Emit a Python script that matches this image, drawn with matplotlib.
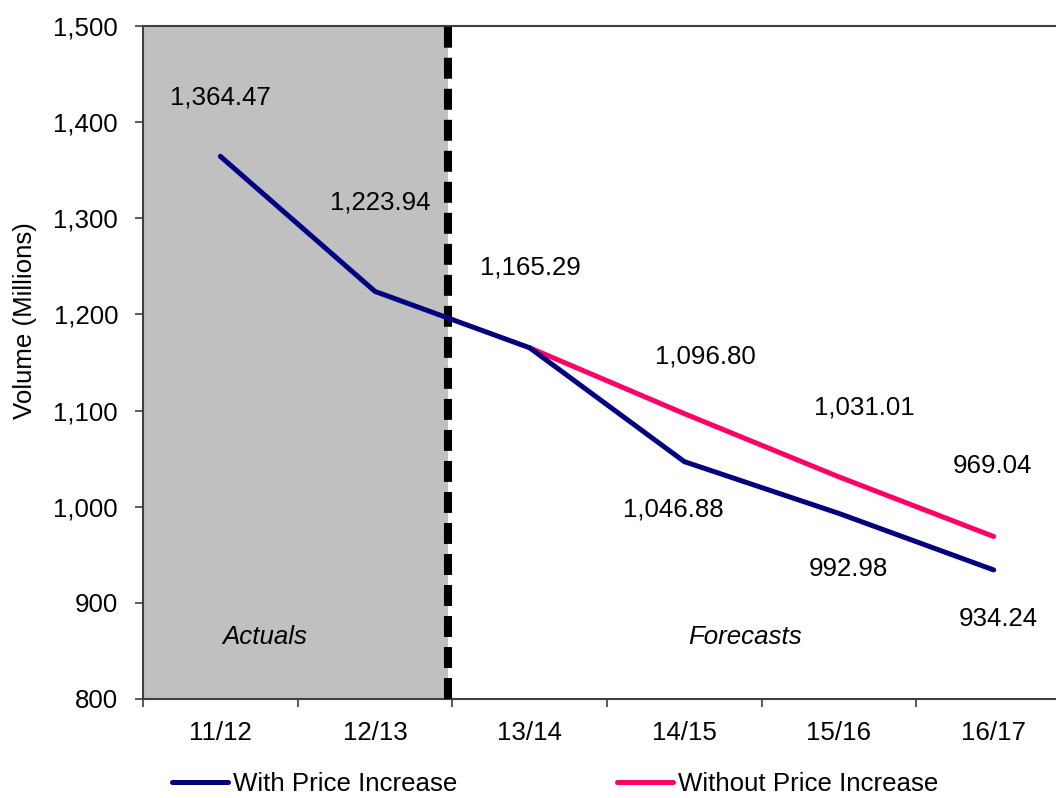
import matplotlib
matplotlib.use("Agg")
import matplotlib.pyplot as plt
from matplotlib.ticker import FuncFormatter

plt.rcParams["font.family"] = ["Liberation Sans", "DejaVu Sans"]
FS = 18.6
plt.rcParams["font.size"] = FS

# Fiscal years and volumes (millions)
years = ["11/12", "12/13", "13/14", "14/15", "15/16", "16/17"]
with_increase = [1364.47, 1223.94, 1165.29, 1046.88, 992.98, 934.24]
# The "without" scenario branches off from 13/14 onwards
without_years = ["13/14", "14/15", "15/16", "16/17"]
without_increase = [1165.29, 1096.80, 1031.01, 969.04]

y_ticks = [800, 900, 1000, 1100, 1200, 1300, 1400, 1500]

NAVY = "#000080"
PINK = "#FF0066"
SHADE = "#C0C0C0"

fig = plt.figure(figsize=(10.56, 7.98), dpi=100)
W, H = 1056, 798
ax = fig.add_axes([143 / W, 1 - 699 / H, 928 / W, 673 / H])

xi = list(range(len(years)))
xw = [years.index(y) for y in without_years]

divider = 1.47
ax.axvspan(-0.5, divider, color=SHADE, zorder=0, lw=0)
ax.axvline(divider, color="black", lw=5.8, linestyle=(0, (2.6, 1.25)),
           dash_capstyle="butt", zorder=3)

ax.plot(xw, without_increase, color=PINK, lw=3.6, solid_capstyle="round",
        solid_joinstyle="round", zorder=4, label="Without Price Increase")
ax.plot(xi, with_increase, color=NAVY, lw=3.6, solid_capstyle="round",
        solid_joinstyle="round", zorder=5, label="With Price Increase")

# Value labels (offsets in pixels from each point)
with_offsets = [(0, 59), (5, 89), (1, 80), (-11, -48), (9, -56), (5, -49)]
without_offsets = [None, (21, 57), (25, 69), (-1, 70)]

for x, v, off in zip(xi, with_increase, with_offsets):
    ax.annotate(f"{v:,.2f}", (x, v), xytext=off, textcoords="offset pixels",
                ha="center", va="center", fontsize=FS, zorder=6)
for x, v, off in zip(xw, without_increase, without_offsets):
    if off is None:
        continue
    ax.annotate(f"{v:,.2f}", (x, v), xytext=off, textcoords="offset pixels",
                ha="center", va="center", fontsize=FS, zorder=6)

ax.text(0.29, 864.5, "Actuals", style="italic", ha="center", va="center", fontsize=FS)
ax.text(3.39, 864.5, "Forecasts", style="italic", ha="center", va="center", fontsize=FS)

ax.set_xlim(-0.5, len(years) - 0.5)
ax.set_ylim(800, 1500)
ax.set_yticks(y_ticks)
ax.yaxis.set_major_formatter(FuncFormatter(lambda v, p: f"{v:,.0f}"))
ax.set_xticks(xi)
ax.set_xticklabels(years)
ax.set_xticks([i - 0.5 for i in range(len(years) + 1)], minor=True)
ax.tick_params(axis="x", which="major", length=0, pad=16, labelsize=FS)
ax.tick_params(axis="x", which="minor", length=6, width=1.2, color="#404040")
ax.tick_params(axis="y", length=6, width=1.2, color="#404040", pad=12, labelsize=FS)

for side in ("left", "top", "bottom"):
    ax.spines[side].set_color("#404040")
    ax.spines[side].set_linewidth(1.5)
ax.spines["right"].set_visible(False)

ax.set_ylabel("Volume (Millions)", fontsize=FS, va="center", ha="center")
ax.yaxis.set_label_coords(-0.127, 0.562)

handles, labels = ax.get_legend_handles_labels()
order = [1, 0]
fig.legend([handles[i] for i in order], [labels[i] for i in order],
           loc="center left", bbox_to_anchor=(172 / W, 1 - 784 / H),
           ncol=2, frameon=False, borderpad=0, borderaxespad=0,
           handlelength=2.15, handletextpad=0.2, columnspacing=6.2, fontsize=FS)

fig.savefig("out.png", dpi=100)
